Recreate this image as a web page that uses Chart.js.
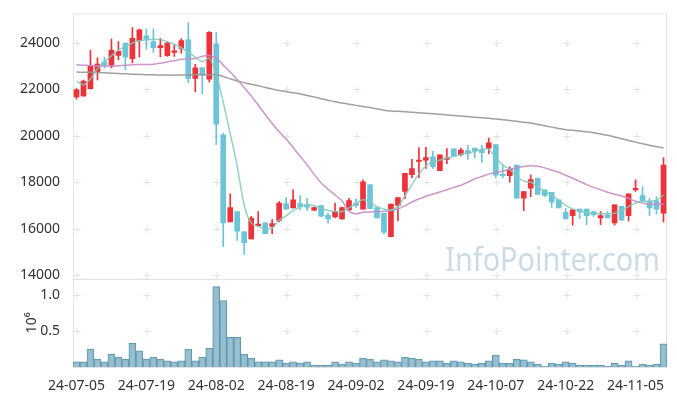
<!DOCTYPE html>
<html>
<head>
<meta charset="utf-8">
<script src="https://cdn.jsdelivr.net/npm/chart.js@4.4.1/dist/chart.umd.min.js"></script>
<style>
  html, body { margin: 0; padding: 0; background: #fff; }
</style>
</head>
<body>
<canvas id="chart-stock" width="677" height="396"></canvas>
<script>
'use strict';
let dates = [
    '24-07-05','24-07-08','24-07-09','24-07-10','24-07-11','24-07-12','24-07-15','24-07-16','24-07-17','24-07-18',
    '24-07-19','24-07-22','24-07-23','24-07-24','24-07-25','24-07-26','24-07-29','24-07-30','24-07-31','24-08-01',
    '24-08-02','24-08-05','24-08-06','24-08-07','24-08-08','24-08-09','24-08-12','24-08-13','24-08-14','24-08-16',
    '24-08-19','24-08-20','24-08-21','24-08-22','24-08-23','24-08-26','24-08-27','24-08-28','24-08-29','24-08-30',
    '24-09-02','24-09-03','24-09-04','24-09-05','24-09-06','24-09-09','24-09-10','24-09-11','24-09-12','24-09-13',
    '24-09-19','24-09-20','24-09-23','24-09-24','24-09-25','24-09-26','24-09-27','24-09-30','24-10-02','24-10-04',
    '24-10-07','24-10-08','24-10-10','24-10-11','24-10-14','24-10-15','24-10-16','24-10-17','24-10-18','24-10-21',
    '24-10-22','24-10-23','24-10-24','24-10-25','24-10-28','24-10-29','24-10-30','24-10-31','24-11-01','24-11-04',
    '24-11-05','24-11-06','24-11-07','24-11-08','24-11-11'
];
let opens = [
    21680,21720,22040,22750,23190,23050,23470,24000,23330,24110,
    24310,24070,23800,23460,23600,23770,24140,22480,22930,22440,
    23960,20040,16290,16740,15860,15560,16130,16250,16100,16350,
    17080,16890,17080,17030,16800,16990,16570,16500,16420,16810,
    17100,16840,17890,16910,16660,15650,17000,17600,18330,18900,
    18950,19100,18500,18980,19440,19190,19370,19470,19390,19470,
    19620,18340,18280,18740,17310,17740,18170,17670,17570,17240,
    16700,16560,16840,16840,16740,16460,16600,16250,16960,16560,
    17670,17430,17170,17200,16670
];
let highs = [
    22040,22410,23690,23360,23400,24170,24070,24000,24670,24610,
    24600,24600,24210,24040,23930,24190,24880,23080,22950,24500,
    24470,20120,17500,16740,15860,16530,16740,16250,16390,17170,
    17340,17670,17430,17310,16930,17000,16670,17100,16930,17310,
    17280,18100,17910,16910,16670,17060,17340,18380,18990,19500,
    19510,19330,19180,19450,19450,19470,19590,19470,19590,19900,
    19620,18760,18660,18740,17600,18310,18170,17670,17570,17240,
    16860,16810,16840,16840,16740,16740,16740,17030,16960,17500,
    18100,17810,17310,17380,19060
];
let lows = [
    21580,21700,22010,22410,22930,22930,23290,22860,23150,23400,
    23740,23600,23400,23430,23430,23570,22290,21890,21820,22320,
    19620,15220,16290,15490,14890,15560,16100,15780,15780,16290,
    16840,16890,16810,16770,16770,16520,16240,16460,16400,16770,
    16910,16840,16860,16460,15770,15640,16340,17290,18200,18200,
    18600,18600,18500,18800,19140,19140,18990,19050,18850,19230,
    18190,18190,18000,17310,16770,17380,17480,17380,16910,16890,
    16420,16150,16430,16170,16530,16170,16460,16150,16360,16320,
    17600,17210,16570,16630,16290
];
let closes = [
    21980,22360,23000,23100,23050,23700,23650,23390,24210,24570,
    24170,23800,23890,24000,23670,24110,22480,22930,22620,24470,
    20510,16250,16910,15890,15390,16460,16200,15780,16220,17100,
    16840,17240,16960,16930,16910,16540,16420,16740,16910,17210,
    17000,18020,16860,16460,15850,17060,17340,18380,18590,18960,
    19060,18670,19180,19050,19140,19390,19230,19350,19280,19700,
    18310,18280,18560,17310,17600,18120,17480,17430,17140,16890,
    16420,16810,16720,16560,16600,16560,16460,17030,16360,17500,
    17740,17210,16890,16840,18740
];
let volumes = [
    73000,73000,247000,110000,73000,178000,137000,110000,329000,224000,
    110000,137000,110000,87000,73000,87000,247000,87000,137000,260000,
    1114000,922000,411000,411000,178000,123000,73000,73000,73000,100000,
    55000,73000,55000,73000,27000,27000,27000,70000,41000,73000,
    55000,123000,110000,73000,100000,87000,73000,137000,123000,110000,
    73000,87000,87000,55000,87000,73000,55000,41000,55000,87000,
    164000,55000,55000,110000,100000,73000,41000,14000,55000,41000,
    73000,55000,27000,27000,27000,27000,14000,55000,27000,87000,
    14000,41000,27000,41000,320000
];
let maShort = [
    22360,22200,22450,22900,23200,23450,23700,23850,24000,24100,
    24140,24170,24150,24060,23950,23800,23600,23400,23200,23350,
    22650,21450,20100,18700,17000,16250,16100,16000,16020,16370,
    16550,16780,16930,17030,16980,16880,16780,16740,16740,16900,
    17100,17250,17150,16950,16850,16800,16950,17400,17900,18350,
    18700,18900,18950,19050,19120,19200,19250,19330,19420,19420,
    19050,18750,18550,18250,18050,18000,17800,17600,17430,17230,
    17000,16850,16760,16680,16660,16640,16640,16660,16780,16950,
    17100,17180,17180,17230,17450
];
let maMid = [
    23070,23050,23030,23020,23010,23005,23020,23040,23070,23075,
    23075,23090,23130,23190,23240,23300,23320,23340,23430,23460,
    23350,23050,22750,22430,22080,21720,21330,20920,20530,20180,
    19860,19500,19120,18750,18340,17980,17700,17450,17200,16750,
    16640,16710,16720,16730,16745,16780,16850,16980,17150,17280,
    17400,17490,17580,17680,17780,17870,18000,18150,18250,18350,
    18420,18480,18560,18620,18680,18710,18690,18620,18520,18430,
    18300,18170,18040,17900,17780,17670,17570,17480,17410,17300,
    17180,17110,17060,17050,17060
];
let maLong = [
    22750,22745,22740,22730,22720,22705,22690,22675,22660,22648,
    22640,22632,22625,22620,22620,22625,22630,22634,22636,22640,
    22645,22560,22460,22365,22296,22227,22158,22090,22025,21960,
    21910,21860,21810,21745,21675,21605,21535,21468,21417,21366,
    21315,21265,21220,21165,21107,21074,21057,21040,21022,21000,
    20975,20952,20928,20905,20880,20857,20835,20805,20780,20755,
    20730,20700,20664,20628,20590,20554,20495,20436,20377,20318,
    20265,20245,20210,20175,20138,20085,20024,19955,19880,19803,
    19730,19660,19595,19535,19475
];
let priceTicks = [14000, 16000, 18000, 20000, 22000, 24000];
let volumeTicks = [500000, 1000000];

let upColor = '#ee3239';
let downColor = '#6cc4d8';
let textColor = '#333';
let fontFamily = '"Noto Sans", sans-serif';

function CandleColor(c){
    return closes[c.dataIndex] >= opens[c.dataIndex] ? upColor : downColor;
}

let paneDecor = {
    id: 'paneDecor',
    beforeDatasetsDraw(chart){
        let c = chart.ctx;
        let x = chart.scales.x;
        let y = chart.scales.y;
        let yv = chart.scales.yv;
        c.save();
        // watermark, squeezed a bit to the reference's width
        c.font = '32px ' + fontFamily;
        c.fillStyle = 'rgba(178,205,219,0.7)';
        c.textAlign = 'right';
        c.textBaseline = 'alphabetic';
        c.translate(x.right - 7, y.bottom - 8);
        c.scale(0.9, 1);
        c.fillText('InfoPointer.com', 0, 0);
        c.setTransform(1, 0, 0, 1, 0, 0);

        c.strokeStyle = '#e3e3e3';
        c.lineWidth = 1;
        [y, yv].forEach(s => {
            c.strokeRect(x.left + 0.5, s.top + 0.5, x.right - x.left - 1, s.bottom - s.top);
        });

        c.strokeStyle = '#e2e2e2';
        dates.forEach((d, i) => {
            if(i % 10 !== 0) return;
            let px = Math.round(x.getPixelForValue(i)) + 0.5;
            [[y, priceTicks], [yv, volumeTicks]].forEach(([s, ticks]) => {
                ticks.forEach(t => {
                    let py = Math.round(s.getPixelForValue(t)) + 0.5;
                    c.beginPath();
                    c.moveTo(px - 3, py); c.lineTo(px + 4, py);
                    c.moveTo(px + 0.5, py - 3.5); c.lineTo(px + 0.5, py + 3.5);
                    c.stroke();
                });
            });
        });
        c.restore();
    }
};

let ctx = document.getElementById('chart-stock').getContext('2d');
let chartStock = new Chart(ctx, {
    type: 'bar',
    data: {
        labels: dates,
        datasets: [
            {type: 'line', label: 'MA5', data: maShort, yAxisID: 'y', borderColor: 'rgba(128,202,189,0.85)', borderWidth: 1.5, pointRadius: 0, tension: 0.3, order: 0},
            {type: 'line', label: 'MA20', data: maMid, yAxisID: 'y', borderColor: 'rgba(200,138,198,0.9)', borderWidth: 1.5, pointRadius: 0, tension: 0.3, order: 0},
            {type: 'line', label: 'MA60', data: maLong, yAxisID: 'y', borderColor: 'rgba(150,150,150,0.9)', borderWidth: 1.5, pointRadius: 0, tension: 0.3, order: 0},
            {label: 'body', data: opens.map((o, i) => [o, closes[i]]), yAxisID: 'y', backgroundColor: CandleColor, barThickness: 5, grouped: false, order: 1},
            {label: 'wick', data: lows.map((l, i) => [l, highs[i]]), yAxisID: 'y', backgroundColor: CandleColor, barThickness: 1, grouped: false, order: 2},
            {label: 'volume', data: volumes, yAxisID: 'yv', backgroundColor: 'rgba(140,184,202,0.9)', borderColor: '#5f98ae', borderWidth: 1, barPercentage: 1, categoryPercentage: 1, grouped: false, order: 3}
        ]
    },
    options: {
        responsive: false,
        animation: false,
        devicePixelRatio: 1,
        layout: {padding: {top: 10, right: 10, left: 0, bottom: 0}},
        plugins: {legend: {display: false}, tooltip: {enabled: false}},
        scales: {
            x: {
                type: 'category',
                offset: true,
                grid: {display: false},
                border: {display: false},
                ticks: {
                    autoSkip: false, maxRotation: 0, padding: 3, color: textColor,
                    font: {size: 14, family: fontFamily},
                    callback: function(v, i){ return i % 10 === 0 ? dates[i] : ''; }
                },
                afterFit: s => { s.height = 29; }
            },
            y: {
                position: 'left', stack: 'panes', stackWeight: 268, weight: 2,
                min: 13835, max: 25281,
                grid: {display: false},
                border: {display: false},
                ticks: {color: textColor, padding: 5, font: {size: 14, family: fontFamily},
                    callback: v => String(v)},
                afterBuildTicks: s => { s.ticks = priceTicks.map(v => ({value: v})); },
                afterFit: s => { s.width = 73; }
            },
            yv: {
                position: 'left', stack: 'panes', stackWeight: 89, weight: 1,
                min: 0, max: 1223000,
                grid: {display: false},
                border: {display: false},
                ticks: {color: textColor, padding: 5, font: {size: 14, family: fontFamily},
                    callback: v => (v / 1000000).toFixed(1)},
                title: {display: true, text: '10⁶', color: textColor, font: {size: 14, family: fontFamily}, padding: {top: 24, bottom: 0}},
                afterBuildTicks: s => { s.ticks = volumeTicks.map(v => ({value: v})); },
                afterFit: s => { s.width = 73; }
            }
        }
    },
    plugins: [paneDecor]
});
</script>
</body>
</html>
